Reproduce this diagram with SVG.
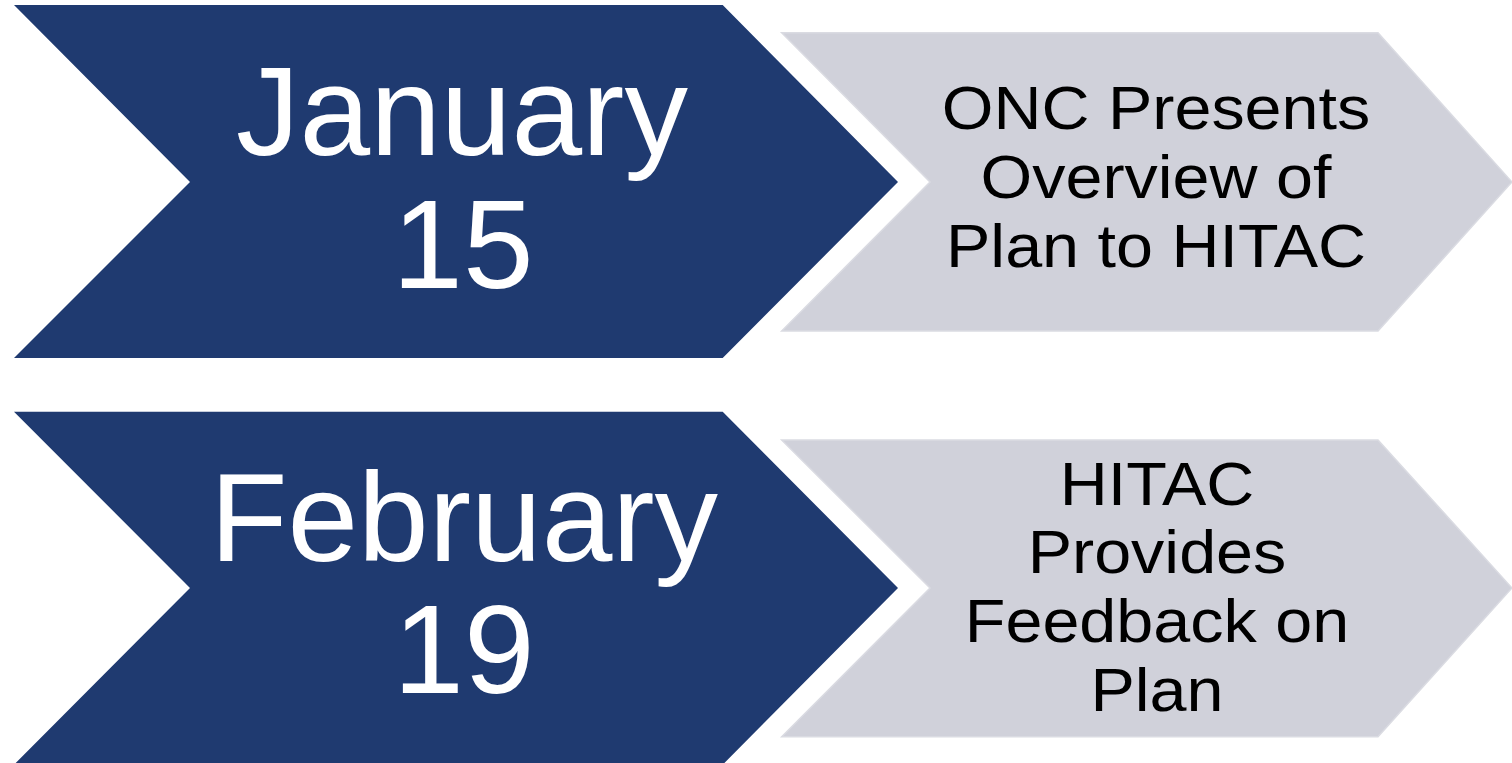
<svg xmlns="http://www.w3.org/2000/svg" width="1512" height="763" viewBox="0 0 1512 763">
<style>
.date{fill:#1F3A70}
.step{fill:#D0D1DA;stroke:#DADBE2;stroke-width:1.5}
.dt{font-family:"Liberation Sans",Arial,sans-serif;font-size:127px;fill:#FFFFFF;text-anchor:middle}
.st{font-family:"Liberation Sans",Arial,sans-serif;font-size:61px;fill:#000000;text-anchor:middle}
</style>
<rect width="1512" height="763" fill="#FFFFFF"/>
<g id="jan15">
<polygon class="date" points="14,5 722.7,5 898,182 722.7,358 14,358 190,182"/>
<text class="dt" x="462" y="155">January</text>
<text class="dt" x="463" y="287.5">15</text>
</g>
<g id="onc-presents">
<polygon class="step" points="781.7,32.7 1378,32.7 1512,182 1378,331 781.7,331 930,182"/>
<g transform="translate(1156,0) scale(1.09,1)">
<text class="st" x="0" y="129.5">ONC Presents</text>
<text class="st" x="0" y="198.5">Overview of</text>
<text class="st" x="0" y="267">Plan to HITAC</text>
</g>
</g>
<g id="feb19">
<polygon class="date" points="14,411.7 722.7,411.7 898,588 722.7,764.7 14,764.7 190,588"/>
<text class="dt" x="464" y="560.7">February</text>
<text class="dt" x="464" y="693.3">19</text>
</g>
<g id="hitac-feedback">
<polygon class="step" points="781.7,440 1378,440 1512,588 1378,736.7 781.7,736.7 930,588"/>
<g transform="translate(1157,0) scale(1.09,1)">
<text class="st" x="0" y="505">HITAC</text>
<text class="st" x="0" y="573.5">Provides</text>
<text class="st" x="0" y="642.5">Feedback on</text>
<text class="st" x="0" y="711.5">Plan</text>
</g>
</g>
<g id="connectors"></g>
</svg>
